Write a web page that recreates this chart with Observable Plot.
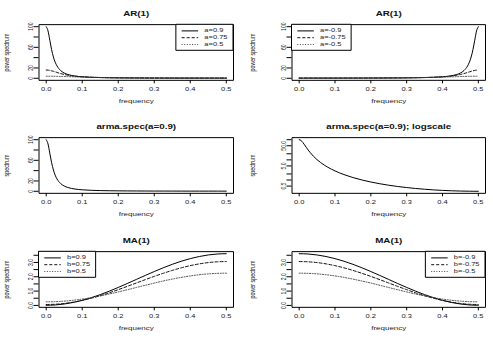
<!DOCTYPE html>
<html><head><meta charset="utf-8">
<script src="https://cdn.jsdelivr.net/npm/d3@7"></script>
<script src="https://cdn.jsdelivr.net/npm/@observablehq/plot@0.6"></script>
<style>
html,body{margin:0;padding:0;background:#fff}
#root{position:relative;width:493px;height:340px;overflow:hidden;background:#fff}
#root svg{position:absolute;overflow:visible}
#root svg path,#root svg line,#root svg rect{vector-effect:non-scaling-stroke}
</style></head>
<body><div id="root"></div>
<script>
// ---------- data ----------
const freqAR = [0,0.005,0.01,0.015,0.02,0.025,0.03,0.04,0.05,0.06,0.07,0.08,0.09,0.1,0.125,0.15,0.175,0.2,0.225,0.25,0.275,0.3,0.325,0.35,0.375,0.4,0.425,0.45,0.475,0.5];
const ar09  = [100,91.8,73.8,55.6,41.3,31.1,23.9,15.0,10.2,7.33,5.52,4.30,3.45,2.83,1.86,1.33,1.007,0.798,0.654,0.552,0.478,0.423,0.381,0.349,0.324,0.306,0.293,0.284,0.279,0.277];
const ar075 = [16,15.81,15.28,14.46,13.45,12.35,11.23,9.12,7.36,5.96,4.87,4.03,3.38,2.87,1.99,1.47,1.134,0.91,0.753,0.64,0.556,0.494,0.446,0.409,0.381,0.36,0.345,0.335,0.3285,0.327];
const ar05  = [4,3.99,3.97,3.93,3.88,3.81,3.74,3.55,3.35,3.12,2.90,2.68,2.47,2.27,1.84,1.51,1.256,1.06,0.914,0.80,0.711,0.64,0.587,0.544,0.511,0.486,0.467,0.454,0.447,0.444];

const freqARneg = [0,0.025,0.05,0.075,0.1,0.125,0.15,0.175,0.2,0.225,0.25,0.275,0.3,0.325,0.35,0.375,0.4,0.41,0.42,0.43,0.44,0.45,0.46,0.47,0.475,0.48,0.485,0.49,0.495,0.5];
const arm09  = [0.277,0.279,0.284,0.293,0.306,0.324,0.349,0.381,0.423,0.478,0.552,0.654,0.798,1.007,1.33,1.86,2.83,3.45,4.30,5.52,7.33,10.2,15.0,23.9,31.1,41.3,55.6,73.8,91.8,100];
const arm075 = [0.327,0.3285,0.335,0.345,0.36,0.381,0.409,0.446,0.494,0.556,0.64,0.753,0.91,1.134,1.47,1.99,2.87,3.38,4.03,4.87,5.96,7.36,9.12,11.23,12.35,13.45,14.46,15.28,15.81,16];
const arm05  = [0.444,0.447,0.454,0.467,0.486,0.511,0.544,0.587,0.64,0.711,0.80,0.914,1.06,1.256,1.51,1.84,2.27,2.47,2.68,2.90,3.12,3.35,3.55,3.74,3.81,3.88,3.93,3.97,3.99,4];

const freqMA = [0,0.025,0.05,0.075,0.1,0.125,0.15,0.175,0.2,0.225,0.25,0.275,0.3,0.325,0.35,0.375,0.4,0.425,0.45,0.475,0.5];
const ma09  = [0.01,0.032,0.098,0.206,0.354,0.537,0.752,0.993,1.254,1.528,1.81,2.092,2.366,2.627,2.868,3.083,3.266,3.414,3.522,3.588,3.61];
const ma075 = [0.0625,0.081,0.136,0.226,0.349,0.502,0.681,0.8815,1.099,1.328,1.5625,1.797,2.026,2.243,2.444,2.623,2.776,2.899,2.989,3.044,3.0625];
const ma05  = [0.25,0.262,0.299,0.359,0.441,0.543,0.662,0.796,0.941,1.094,1.25,1.406,1.559,1.704,1.838,1.957,2.059,2.141,2.201,2.238,2.25];
const mam09  = [3.61,3.588,3.522,3.414,3.266,3.083,2.868,2.627,2.366,2.092,1.81,1.528,1.254,0.993,0.752,0.537,0.354,0.206,0.098,0.032,0.01];
const mam075 = [3.0625,3.044,2.989,2.899,2.776,2.623,2.444,2.243,2.026,1.797,1.5625,1.328,1.099,0.8815,0.681,0.502,0.349,0.226,0.136,0.081,0.0625];
const mam05  = [2.25,2.238,2.201,2.141,2.059,1.957,1.838,1.704,1.559,1.406,1.25,1.094,0.941,0.796,0.662,0.543,0.441,0.359,0.299,0.262,0.25];

const titles = ["AR(1)","AR(1)","arma.spec(a=0.9)","arma.spec(a=0.9); logscale","MA(1)","MA(1)"];
const yLabels = ["power spectrum","power spectrum","spectrum","spectrum","power spectrum","power spectrum"];
const xLabel = "frequency";
const legendAR = ["a=0.9","a=0.75","a=0.5"];
const legendARneg = ["a=-0.9","a=-0.75","a=-0.5"];
const legendMA = ["b=0.9","b=0.75","b=0.5"];
const legendMAneg = ["b=-0.9","b=-0.75","b=-0.5"];

const xTicks = [0,0.1,0.2,0.3,0.4,0.5];
const xTickLabels = ["0.0","0.1","0.2","0.3","0.4","0.5"];
const arTicks = [0,20,40,60,80,100];
const arTickLabels = ["0","20","","60","","100"];
const maTicks = [0,0.5,1,1.5,2,2.5,3,3.5];
const maTickLabels = ["0.0","","1.0","","2.0","","3.0",""];
const logTicks = [0.5,1,2,5,10,20,50,100];
const logTickLabels = ["0.5","","","5.0","","","50.0",""];

// ---------- styling / layout ----------
const FONT = "'Liberation Sans', Arial, Helvetica, sans-serif";
const S = 0.67;            // vertical squash of the picture
const DASH = [null, "3,2", "1,1.6"];
const COL = ["#000", "#111", "#444"];
const TICK_FS = 7.5, LAB_FS = 8, MAIN_FS = 9.8;
const TXT = "#1a1a1a";

const rows = (fs, vs) => fs.map((f, i) => ({f, v: vs[i]}));
const root = document.getElementById("root");

function panel(cfg) {
  const {left, top, w, h, box} = cfg;
  const H = h / S;
  const ml = box[0] - left, mr = left + w - box[1];
  const mt = (box[2] - top) / S, mb = (top + h - box[3]) / S;
  const marks = [];
  cfg.series.forEach((s, i) => {
    marks.push(Plot.line(rows(s.f, s.v), {x: "f", y: "v", stroke: COL[i], strokeWidth: 1,
      strokeDasharray: DASH[i], curve: "monotone-x"}));
  });
  marks.push(Plot.frame({stroke: "#000", strokeWidth: 1}));
  marks.push(Plot.axisX({ticks: xTicks, tickSize: 5, tickFormat: () => "", label: null, stroke: "#000"}));
  marks.push(Plot.axisY({ticks: cfg.yTicks, tickSize: 5, tickFormat: () => "", label: null, stroke: "#000"}));
  const T = {textAnchor: "middle", lineAnchor: "middle"};
  marks.push(Plot.text(xTicks, {...T, x: d => d, text: (d, i) => xTickLabels[i], frameAnchor: "bottom",
    dy: 9.4 / S, fontSize: TICK_FS, fill: TXT}));
  marks.push(Plot.text(cfg.yTicks, {...T, y: d => d, text: (d, i) => cfg.yTickLabels[i], frameAnchor: "left",
    dx: -8.5, rotate: -90, fontSize: TICK_FS, fill: TXT}));
  marks.push(Plot.text([cfg.title], {...T, frameAnchor: "top", dy: -11 / S, fontSize: MAIN_FS, fontWeight: "bold", fill: "#111"}));
  marks.push(Plot.text([xLabel], {...T, frameAnchor: "bottom", dy: 20.7 / S, fontSize: LAB_FS, fill: TXT}));
  marks.push(Plot.text([cfg.ylab], {...T, frameAnchor: "left", dx: -(ml - 5.5), rotate: -90, fontSize: LAB_FS, fill: TXT}));

  const svg = Plot.plot({
    width: w, height: H,
    marginLeft: ml, marginRight: mr, marginTop: mt, marginBottom: mb,
    x: {domain: [-0.02, 0.52], axis: null},
    y: {domain: cfg.yDomain, type: cfg.yType || "linear", axis: null},
    style: {fontFamily: FONT, background: "transparent", overflow: "visible"},
    marks
  });
  svg.setAttribute("preserveAspectRatio", "none");
  svg.setAttribute("viewBox", `0 0 ${w} ${H}`);
  svg.setAttribute("width", w);
  svg.setAttribute("height", h);
  svg.style.left = left + "px";
  svg.style.top = top + "px";
  root.appendChild(svg);

  if (cfg.legend) {
    const L = cfg.legend;
    const fx0 = ml, fx1 = w - mr, fy0 = mt;
    const g = d3.select(svg).append("g").attr("font-family", FONT).attr("font-size", TICK_FS)
      .attr("text-anchor", "start");
    const rect = g.append("rect").attr("fill", "#fff").attr("stroke", "#000").attr("stroke-width", 1);
    const rowY = i => fy0 + (6.6 + 6.8 * i) / S;
    const texts = L.labels.map((lab, i) => g.append("text").text(lab)
      .attr("text-anchor", "start").attr("y", rowY(i)).attr("dy", "0.32em").attr("fill", TXT));
    const tw = d3.max(texts, t => t.node().getComputedTextLength());
    const bw = 28.5 + tw + 5.5, bh = 26 / S;
    const bx = L.corner === "right" ? fx1 - bw : fx0;
    rect.attr("x", bx).attr("y", fy0).attr("width", bw).attr("height", bh);
    texts.forEach(t => t.attr("x", bx + 28.5));
    L.labels.forEach((lab, i) => {
      g.append("line").attr("x1", bx + 5.8).attr("x2", bx + 22.3)
        .attr("y1", rowY(i)).attr("y2", rowY(i))
        .attr("stroke", COL[i]).attr("stroke-width", 1).attr("stroke-dasharray", DASH[i]);
    });
  }
}

const RH = 340 / 3;
const LB = [38.5, 233], RB = [291.5, 485];
const yb = r => [24.3 + r * RH, 80 + r * RH];

panel({left: 0, top: 0, w: 246, h: RH, box: [...LB, ...yb(0)], title: titles[0], ylab: yLabels[0],
  yDomain: [-4, 104], yTicks: arTicks, yTickLabels: arTickLabels,
  series: [{f: freqAR, v: ar09}, {f: freqAR, v: ar075}, {f: freqAR, v: ar05}],
  legend: {corner: "right", labels: legendAR}});
panel({left: 246, top: 0, w: 247, h: RH, box: [...RB, ...yb(0)], title: titles[1], ylab: yLabels[1],
  yDomain: [-4, 104], yTicks: arTicks, yTickLabels: arTickLabels,
  series: [{f: freqARneg, v: arm09}, {f: freqARneg, v: arm075}, {f: freqARneg, v: arm05}],
  legend: {corner: "left", labels: legendARneg}});
panel({left: 0, top: RH, w: 246, h: RH, box: [...LB, ...yb(1)], title: titles[2], ylab: yLabels[2],
  yDomain: [-4, 104], yTicks: arTicks, yTickLabels: arTickLabels,
  series: [{f: freqAR, v: ar09}]});
panel({left: 246, top: RH, w: 247, h: RH, box: [...RB, ...yb(1)], title: titles[3], ylab: yLabels[3],
  yDomain: [0.219, 126.5], yType: "log", yTicks: logTicks, yTickLabels: logTickLabels,
  series: [{f: freqAR, v: ar09}]});
panel({left: 0, top: 2 * RH, w: 246, h: RH, box: [...LB, ...yb(2)], title: titles[4], ylab: yLabels[4],
  yDomain: [-0.134, 3.754], yTicks: maTicks, yTickLabels: maTickLabels,
  series: [{f: freqMA, v: ma09}, {f: freqMA, v: ma075}, {f: freqMA, v: ma05}],
  legend: {corner: "left", labels: legendMA}});
panel({left: 246, top: 2 * RH, w: 247, h: RH, box: [...RB, ...yb(2)], title: titles[5], ylab: yLabels[5],
  yDomain: [-0.134, 3.754], yTicks: maTicks, yTickLabels: maTickLabels,
  series: [{f: freqMA, v: mam09}, {f: freqMA, v: mam075}, {f: freqMA, v: mam05}],
  legend: {corner: "right", labels: legendMAneg}});
</script></body></html>
